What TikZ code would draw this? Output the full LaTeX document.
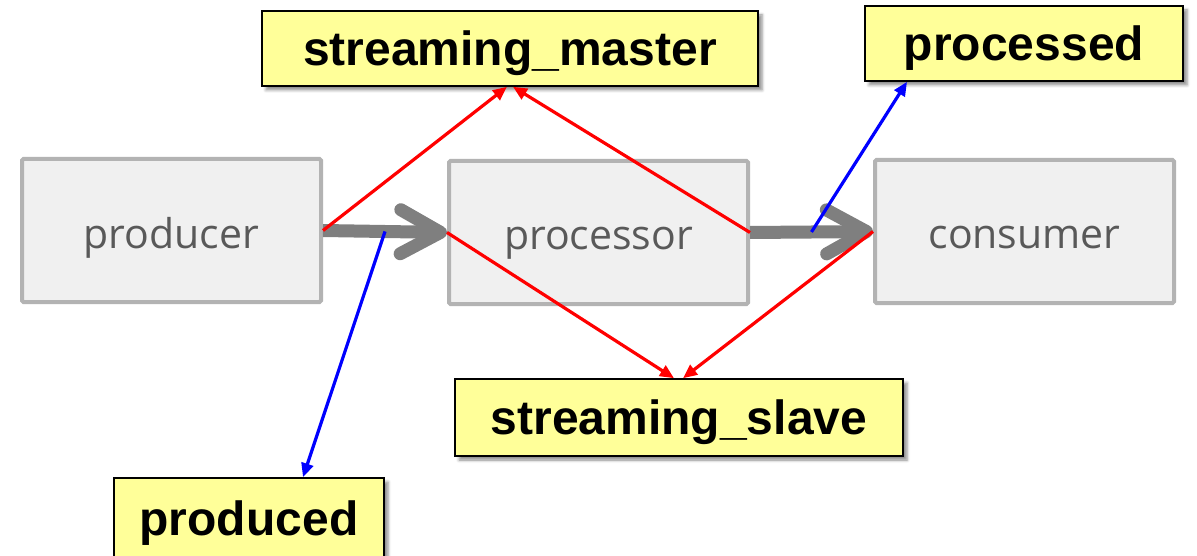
\documentclass[tikz,border=0pt]{standalone}
\usepackage{fontspec}
\newfontfamily\boxfont{Open Sans}
\newfontfamily\tagfont{Liberation Sans}
\usetikzlibrary{arrows.meta,shadows.blur}
\definecolor{boxfill}{HTML}{F0F0F0}
\definecolor{boxline}{HTML}{B3B3B3}
\definecolor{boxtext}{HTML}{595959}
\definecolor{flowgray}{HTML}{7F7F7F}
\definecolor{tagfill}{HTML}{FFFF99}

\tikzset{
  stage/.style={draw=boxline, fill=boxfill, line width=4pt, rounded corners=1.5pt,
    inner sep=0pt, minimum width=299pt, minimum height=143pt, text=boxtext,
    font=\boxfont\fontsize{41}{49}\selectfont, text height=45pt, text depth=10pt},
  tag/.style={draw=black, line width=1.6pt, fill=tagfill, inner sep=0pt,
    minimum height=75pt, font=\tagfont\bfseries\fontsize{48}{57}\selectfont,
    text height=43pt, text depth=9pt,
    blur shadow={shadow xshift=4pt, shadow yshift=-4pt, shadow blur radius=3pt, shadow opacity=45}},
  flow/.style={draw=flowgray, line width=13pt, -{Straight Barb[length=40pt,width=44pt,round]}},
  link/.style={draw=red, line width=3.2pt, -{Triangle[length=14pt,width=12pt]}},
  ref/.style={draw=blue, line width=3.2pt, -{Triangle[length=14pt,width=12pt]}},
}

\begin{document}
\begin{tikzpicture}[x=1pt,y=-1pt]
  \useasboundingbox (0,0) rectangle (1197,556);

  % pipeline stages
  \node[stage] (producer)  at (171.5,230.5) {producer};
  \node[stage] (processor) at (598.5,232.5) {processor};
  \node[stage] (consumer)  at (1024.5,231.5) {consumer};

  % data flow between stages
  \draw[flow] (producer.east) -- coordinate[pos=0.5] (p1) (processor.west);
  \draw[flow] (processor.east) -- coordinate[pos=0.5] (p2) (consumer.west);

  % labels
  \node[tag, minimum width=496pt] (master)    at (510,48.5)  {streaming\_master};
  \node[tag, minimum width=318pt] (processed) at (1024,43.5) {processed};
  \node[tag, minimum width=448pt, minimum height=77pt] (slave) at (679,417.5) {streaming\_slave};
  \node[tag, minimum width=270pt, minimum height=90pt, text depth=19pt] (produced) at (249,523) {produced};

  % streaming links
  \draw[link] (producer.east)  -- ([xshift=-3pt]master.south);
  \draw[link] (processor.east) -- ([xshift=3pt]master.south);
  \draw[link] (processor.west) -- ([xshift=-5pt]slave.north);
  \draw[link] (consumer.west)  -- ([xshift=4pt]slave.north);

  % flow markers
  \draw[ref] (p1) -- ([xshift=54pt]produced.north);
  \draw[ref] (p2) -- ([xshift=-117pt]processed.south);
\end{tikzpicture}
\end{document}
